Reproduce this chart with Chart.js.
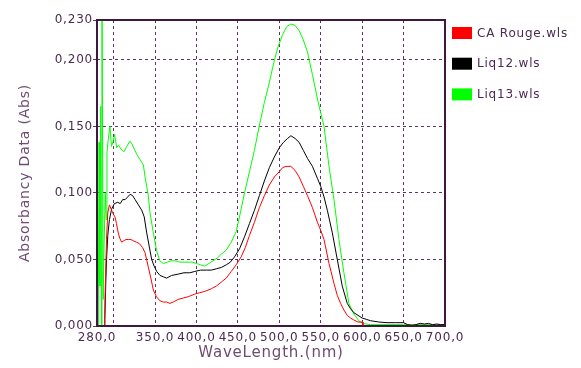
<!DOCTYPE html>
<html>
<head>
<meta charset="utf-8">
<script src="https://cdn.jsdelivr.net/npm/chart.js@4/dist/chart.umd.min.js"></script>
<style>
  html, body { margin: 0; padding: 0; background: #ffffff; }
  #wrap { width: 581px; height: 368px; position: relative; }
</style>
</head>
<body>
<div id="wrap"><canvas id="c" width="581" height="368"></canvas></div>
<script>
// ---- Data ----
const seriesLabels = ['CA Rouge.wls', 'Liq12.wls', 'Liq13.wls'];
const seriesColors = ['#ff0000', '#000000', '#00ff00'];

const redNm  = [280, 288, 289, 290, 291.5, 293, 295, 297, 299, 301.7, 303.5, 305.6, 307.5, 309.7, 312, 315, 318, 321, 324, 327.7, 331, 335, 338, 341.7, 345, 348, 351.8, 355.8, 360, 364, 368, 372, 378, 384, 390, 398, 404, 410, 418, 424, 430, 436, 442, 448, 454, 459, 464, 470, 476, 482, 488, 494, 500, 504, 508, 514, 519, 524, 529, 534, 540, 546, 550, 554, 560, 566, 570, 574, 578, 582, 586, 590, 595, 600, 601, 650, 700];
const redAbs = [-0.005, -0.005, 0.0, 0.03, 0.065, 0.085, 0.091, 0.088, 0.085, 0.082, 0.077, 0.070, 0.066, 0.063, 0.064, 0.065, 0.065, 0.065, 0.064, 0.063, 0.062, 0.059, 0.055, 0.045, 0.036, 0.027, 0.022, 0.019, 0.018, 0.018, 0.017, 0.018, 0.020, 0.021, 0.022, 0.024, 0.025, 0.026, 0.028, 0.030, 0.033, 0.036, 0.041, 0.046, 0.052, 0.059, 0.068, 0.078, 0.089, 0.098, 0.106, 0.112, 0.116, 0.119, 0.120, 0.120, 0.117, 0.112, 0.105, 0.098, 0.089, 0.078, 0.072, 0.065, 0.047, 0.032, 0.023, 0.017, 0.012, 0.008, 0.006, 0.0045, 0.003, 0.003, 0.0, 0.0, 0.0];

const blackNm  = [280, 288.5, 289.5, 290.5, 291.5, 293, 295, 297.7, 301, 305, 308, 311, 314, 317, 320, 323, 326, 330, 334, 337, 340, 343, 346, 349, 352, 356, 360, 364, 370, 378, 385, 392, 398, 405, 412, 418, 424, 430, 436, 441, 446, 452, 458, 464, 470, 476, 482, 488, 494, 500, 505, 510, 514, 519, 524, 529, 534, 540, 546, 550, 554, 558, 564, 570, 576, 582, 586, 590, 595, 600, 605, 610, 620, 630, 640, 650, 655, 660, 665, 670, 675, 680, 685, 690, 695, 700];
const blackAbs = [-0.005, -0.005, 0.005, 0.03, 0.05, 0.068, 0.080, 0.088, 0.092, 0.093, 0.092, 0.095, 0.095, 0.097, 0.099, 0.098, 0.095, 0.091, 0.087, 0.082, 0.070, 0.060, 0.050, 0.045, 0.041, 0.038, 0.037, 0.036, 0.038, 0.039, 0.040, 0.040, 0.041, 0.042, 0.042, 0.042, 0.043, 0.044, 0.046, 0.048, 0.052, 0.058, 0.067, 0.077, 0.087, 0.098, 0.109, 0.119, 0.127, 0.134, 0.138, 0.141, 0.143, 0.141, 0.138, 0.132, 0.126, 0.120, 0.111, 0.105, 0.097, 0.087, 0.070, 0.050, 0.030, 0.017, 0.013, 0.010, 0.008, 0.006, 0.005, 0.004, 0.003, 0.0025, 0.0025, 0.0025, 0.001, 0.0005, 0.001, 0.002, 0.0015, 0.002, 0.001, 0.0015, 0.001, 0.001];

const greenNm  = [280, 280.5, 281.5, 282.5, 283.5, 284.5, 285.5, 286, 287.5, 288.5, 290, 291, 292, 293.5, 295.6, 297.5, 299, 301.3, 303.7, 306, 309, 312.5, 316, 319.7, 322, 325, 328, 332, 336, 338, 341.7, 344, 347.7, 351.8, 355.8, 360, 365, 370, 375, 380, 385, 390, 395, 400, 405, 410, 415, 420, 425, 430, 436, 442, 448, 453, 458, 464, 470, 476, 482, 488, 493, 498, 504, 509, 514, 519, 524, 529, 534, 540, 547, 554, 560, 566, 572, 578, 584, 590, 596, 600, 610, 650, 700];
const greenAbs = [0.035, 0.104, 0.0, 0.138, 0.03, 0.165, 0.0, 0.26, 0.02, 0.06, 0.10, 0.08, 0.13, 0.14, 0.150, 0.135, 0.138, 0.144, 0.134, 0.136, 0.133, 0.131, 0.135, 0.139, 0.137, 0.133, 0.129, 0.125, 0.121, 0.112, 0.099, 0.085, 0.071, 0.057, 0.049, 0.047, 0.048, 0.049, 0.049, 0.048, 0.048, 0.048, 0.048, 0.047, 0.046, 0.045, 0.047, 0.049, 0.051, 0.054, 0.057, 0.063, 0.071, 0.085, 0.100, 0.116, 0.132, 0.151, 0.168, 0.183, 0.197, 0.209, 0.219, 0.225, 0.227, 0.226, 0.222, 0.215, 0.206, 0.189, 0.168, 0.150, 0.120, 0.095, 0.065, 0.040, 0.017, 0.009, 0.004, 0.002, 0.001, 0.001, 0.001];

const xTickValues = [280, 300, 350, 400, 450, 500, 550, 600, 650, 700];
const xTickLabels = ['280,0', '', '350,0', '400,0', '450,0', '500,0', '550,0', '600,0', '650,0', '700,0'];
const yTickValues = [0, 0.05, 0.1, 0.15, 0.2, 0.23];
const yTickLabels = ['0,000', '0,050', '0,100', '0,150', '0,200', '0,230'];

// ---- Build datasets ----
function pts(nm, ab) { return nm.map((x, i) => ({ x: x, y: ab[i] })); }
const seriesNm = [redNm, blackNm, greenNm];
const seriesAbs = [redAbs, blackAbs, greenAbs];

const gridColor = '#5e3462';
const frameColor = '#3e1840';
const tickColor = '#4c2a52';
const titleColor = '#6e4c72';

const framePlugin = {
  id: 'frame',
  beforeDraw(chart) {
    chart.ctx.letterSpacing = '0.8px';
  },
  afterDatasetsDraw(chart) {
    const { ctx, chartArea: a } = chart;
    ctx.save();
    ctx.strokeStyle = frameColor;
    ctx.lineWidth = 2;
    ctx.setLineDash([]);
    ctx.strokeRect(a.left, a.top, a.right - a.left, a.bottom - a.top);
    ctx.restore();
  },
  afterDraw(chart) {
    const { ctx } = chart;
    ctx.save();
    ctx.font = '12px "DejaVu Sans"';
    ctx.textBaseline = 'middle';
    ctx.textAlign = 'left';
    chart.data.datasets.forEach((ds, i) => {
      const y = 27 + i * 30.7;
      ctx.fillStyle = ds.borderColor;
      ctx.fillRect(452, y, 20, 12);
      ctx.fillStyle = tickColor;
      ctx.fillText(ds.label, 477, y + 6.5);
    });
    ctx.restore();
  }
};

new Chart(document.getElementById('c'), {
  type: 'line',
  data: {
    datasets: seriesLabels.map((lab, i) => ({
      label: lab,
      data: pts(seriesNm[i], seriesAbs[i]),
      borderColor: seriesColors[i],
      backgroundColor: seriesColors[i],
      borderWidth: 1,
      pointRadius: 0,
      tension: 0,
      fill: false
    }))
  },
  options: {
    responsive: false,
    animation: false,
    devicePixelRatio: 1,
    layout: { padding: { left: 0, top: 20, right: 136, bottom: 0 } },
    plugins: { legend: { display: false }, tooltip: { enabled: false } },
    scales: {
      x: {
        type: 'linear',
        min: 280, max: 700,
        afterBuildTicks: (s) => { s.ticks = xTickValues.map(v => ({ value: v })); },
        afterFit: (s) => { s.height = 42; },
        ticks: {
          autoSkip: false, maxRotation: 0, minRotation: 0, padding: 5,
          color: tickColor, font: { family: 'DejaVu Sans', size: 12 },
          callback: (v) => { const i = xTickValues.indexOf(v); return i >= 0 ? xTickLabels[i] : ''; }
        },
        grid: { color: gridColor, lineWidth: 1, drawTicks: false },
        border: { display: false, dash: [3, 3] },
        title: {
          display: true, text: 'WaveLength.(nm)', color: titleColor,
          font: { family: 'DejaVu Sans', size: 15 }, padding: { top: 0, bottom: 6 }
        }
      },
      y: {
        type: 'linear',
        min: 0, max: 0.23,
        afterBuildTicks: (s) => { s.ticks = yTickValues.map(v => ({ value: v })); },
        afterFit: (s) => { s.width = 97; },
        ticks: {
          autoSkip: false, padding: 0,
          color: tickColor, font: { family: 'DejaVu Sans', size: 12 },
          callback: (v) => { const i = yTickValues.indexOf(v); return i >= 0 ? yTickLabels[i] : ''; }
        },
        grid: { color: gridColor, lineWidth: 1, drawTicks: true, tickLength: 4, tickBorderDash: [] },
        border: { display: false, dash: [3, 3] },
        title: {
          display: true, text: 'Absorbancy Data (Abs)', color: titleColor,
          font: { family: 'DejaVu Sans', size: 14 }, padding: { top: 17, bottom: 0 }
        }
      }
    }
  },
  plugins: [framePlugin]
});
</script>
</body>
</html>
